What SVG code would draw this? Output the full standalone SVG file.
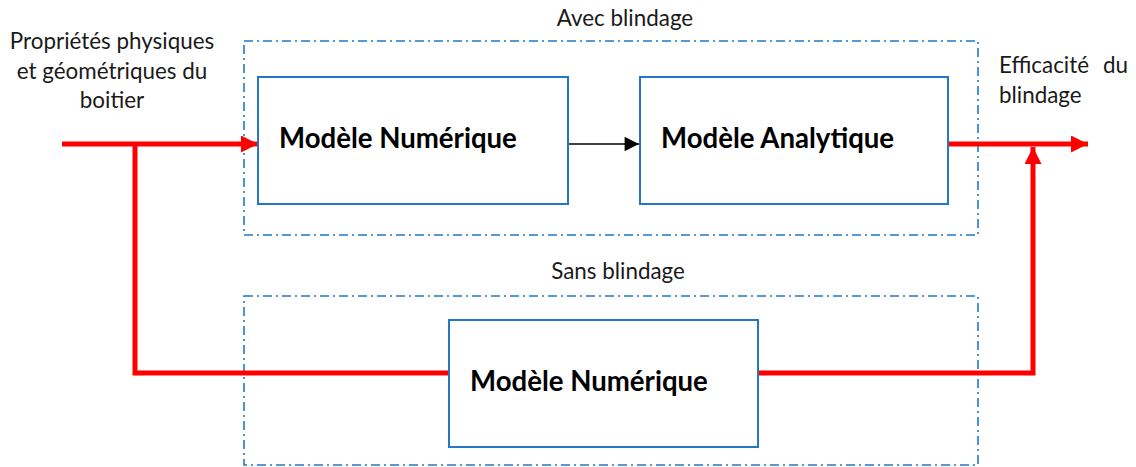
<svg xmlns="http://www.w3.org/2000/svg" width="1136" height="467" viewBox="0 0 1136 467">
<style>
.txt{font-family:Lato,"Open Sans","Liberation Sans",sans-serif;font-size:22.4px;fill:#1a1a1a}
.bold{font-family:Lato,"Open Sans","Liberation Sans",sans-serif;font-size:27.6px;font-weight:bold;fill:#000}
.grp{fill:none;stroke:#1f78c8;stroke-width:1.6;stroke-dasharray:9 4 2 4}
.box{fill:#fff;stroke:#2477c4;stroke-width:2}
.red{fill:none;stroke:#ff0000;stroke-width:5}
</style>
<defs>
<marker id="ra" viewBox="0 0 10 10" refX="10" refY="5" markerWidth="3.8" markerHeight="3.4" orient="auto" markerUnits="strokeWidth"><path d="M0,0 L10,5 L0,10 z" fill="#ff0000"/></marker>
<marker id="ba" viewBox="0 0 10 10" refX="10" refY="5" markerWidth="10" markerHeight="9" orient="auto" markerUnits="strokeWidth"><path d="M0,0 L10,5 L0,10 z" fill="#000"/></marker>
</defs>
<g id="avec">
<rect class="grp" x="244" y="41" width="734" height="194"/>
<text class="txt" x="625" y="26" text-anchor="middle">Avec blindage</text>
</g>
<g id="sans">
<rect class="grp" x="244" y="296" width="734" height="169"/>
<text class="txt" x="618" y="279" text-anchor="middle">Sans blindage</text>
</g>
<g id="inputs">
<text class="txt" text-anchor="middle"><tspan x="112" y="49">Propriétés physiques</tspan><tspan x="112" y="79">et géométriques du</tspan><tspan x="112" y="108">boitier</tspan></text>
</g>
<g id="output">
<text class="txt"><tspan x="999" y="73">Efficacité</tspan><tspan x="1128" y="73" text-anchor="end">du</tspan><tspan x="999" y="103">blindage</tspan></text>
</g>
<g id="connectors">
<line class="red" x1="62" y1="144" x2="258" y2="144" marker-end="url(#ra)"/>
<polyline class="red" points="135,144 135,373 449,373"/>
<polyline class="red" points="758,373 1033,373 1033,147" marker-end="url(#ra)"/>
<line class="red" x1="948" y1="144" x2="1088" y2="144" marker-end="url(#ra)"/>
<line x1="568" y1="144" x2="639" y2="144" stroke="#000" stroke-width="1.6" marker-end="url(#ba)"/>
</g>
<g id="num1">
<rect class="box" x="258" y="77" width="310" height="127"/>
<text class="bold" x="279" y="148">Modèle Numérique</text>
</g>
<g id="ana">
<rect class="box" x="640" y="77" width="308" height="127"/>
<text class="bold" x="661" y="148">Modèle Analytique</text>
</g>
<g id="num2">
<rect class="box" x="449" y="320" width="309" height="127"/>
<text class="bold" x="470" y="391">Modèle Numérique</text>
</g>
</svg>
